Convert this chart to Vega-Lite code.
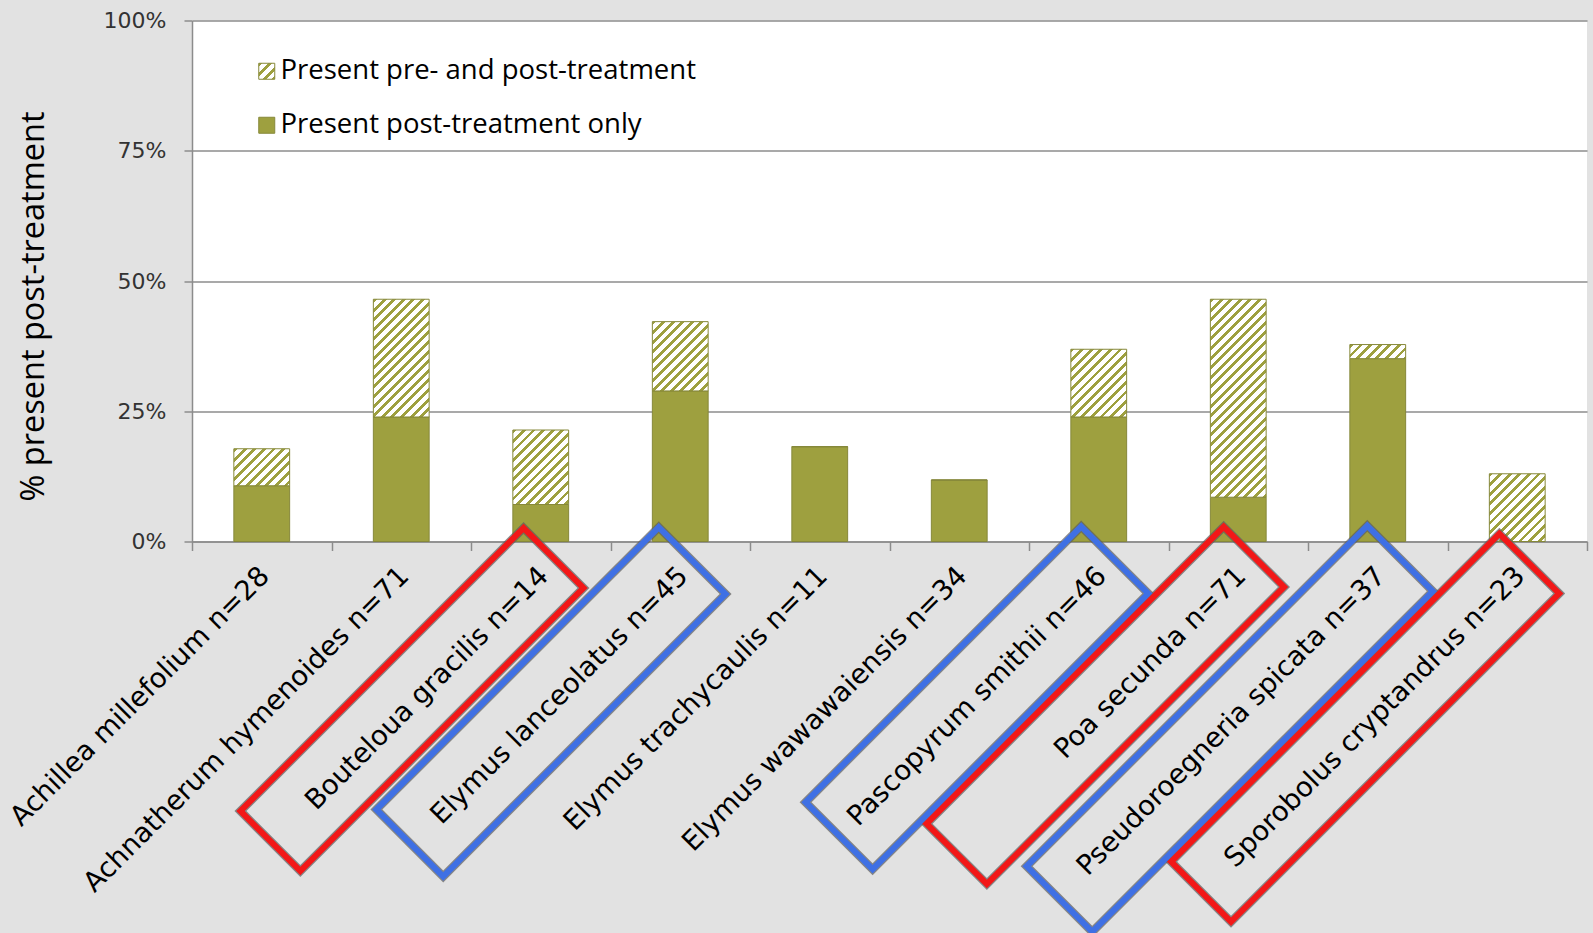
{
  "$schema": "https://vega.github.io/schema/vega-lite/v6.json",
  "width": 1395,
  "height": 521,
  "autosize": {"type": "none"},
  "padding": {"left": 192, "top": 20.5, "right": 6, "bottom": 391.5},
  "background": "#e2e2e2",
  "config": {"view": {"fill": "#ffffff", "stroke": null}},
  "resolve": {"scale": {"stroke": "independent"}, "legend": {"stroke": "independent"}},
  "params": [
    {"name": "stripes", "value": [
      {"offset": 0, "color": "#9ea03f"}, {"offset": 0.014286, "color": "#9ea03f"}, {"offset": 0.014286, "color": "#ffffff"}, {"offset": 0.035714, "color": "#ffffff"},
      {"offset": 0.035714, "color": "#9ea03f"}, {"offset": 0.05, "color": "#9ea03f"}, {"offset": 0.05, "color": "#ffffff"}, {"offset": 0.071429, "color": "#ffffff"},
      {"offset": 0.071429, "color": "#9ea03f"}, {"offset": 0.085714, "color": "#9ea03f"}, {"offset": 0.085714, "color": "#ffffff"}, {"offset": 0.107143, "color": "#ffffff"},
      {"offset": 0.107143, "color": "#9ea03f"}, {"offset": 0.121429, "color": "#9ea03f"}, {"offset": 0.121429, "color": "#ffffff"}, {"offset": 0.142857, "color": "#ffffff"},
      {"offset": 0.142857, "color": "#9ea03f"}, {"offset": 0.157143, "color": "#9ea03f"}, {"offset": 0.157143, "color": "#ffffff"}, {"offset": 0.178571, "color": "#ffffff"},
      {"offset": 0.178571, "color": "#9ea03f"}, {"offset": 0.192857, "color": "#9ea03f"}, {"offset": 0.192857, "color": "#ffffff"}, {"offset": 0.214286, "color": "#ffffff"},
      {"offset": 0.214286, "color": "#9ea03f"}, {"offset": 0.228571, "color": "#9ea03f"}, {"offset": 0.228571, "color": "#ffffff"}, {"offset": 0.25, "color": "#ffffff"},
      {"offset": 0.25, "color": "#9ea03f"}, {"offset": 0.264286, "color": "#9ea03f"}, {"offset": 0.264286, "color": "#ffffff"}, {"offset": 0.285714, "color": "#ffffff"},
      {"offset": 0.285714, "color": "#9ea03f"}, {"offset": 0.3, "color": "#9ea03f"}, {"offset": 0.3, "color": "#ffffff"}, {"offset": 0.321429, "color": "#ffffff"},
      {"offset": 0.321429, "color": "#9ea03f"}, {"offset": 0.335714, "color": "#9ea03f"}, {"offset": 0.335714, "color": "#ffffff"}, {"offset": 0.357143, "color": "#ffffff"},
      {"offset": 0.357143, "color": "#9ea03f"}, {"offset": 0.371429, "color": "#9ea03f"}, {"offset": 0.371429, "color": "#ffffff"}, {"offset": 0.392857, "color": "#ffffff"},
      {"offset": 0.392857, "color": "#9ea03f"}, {"offset": 0.407143, "color": "#9ea03f"}, {"offset": 0.407143, "color": "#ffffff"}, {"offset": 0.428571, "color": "#ffffff"},
      {"offset": 0.428571, "color": "#9ea03f"}, {"offset": 0.442857, "color": "#9ea03f"}, {"offset": 0.442857, "color": "#ffffff"}, {"offset": 0.464286, "color": "#ffffff"},
      {"offset": 0.464286, "color": "#9ea03f"}, {"offset": 0.478571, "color": "#9ea03f"}, {"offset": 0.478571, "color": "#ffffff"}, {"offset": 0.5, "color": "#ffffff"},
      {"offset": 0.5, "color": "#9ea03f"}, {"offset": 0.514286, "color": "#9ea03f"}, {"offset": 0.514286, "color": "#ffffff"}, {"offset": 0.535714, "color": "#ffffff"},
      {"offset": 0.535714, "color": "#9ea03f"}, {"offset": 0.55, "color": "#9ea03f"}, {"offset": 0.55, "color": "#ffffff"}, {"offset": 0.571429, "color": "#ffffff"},
      {"offset": 0.571429, "color": "#9ea03f"}, {"offset": 0.585714, "color": "#9ea03f"}, {"offset": 0.585714, "color": "#ffffff"}, {"offset": 0.607143, "color": "#ffffff"},
      {"offset": 0.607143, "color": "#9ea03f"}, {"offset": 0.621429, "color": "#9ea03f"}, {"offset": 0.621429, "color": "#ffffff"}, {"offset": 0.642857, "color": "#ffffff"},
      {"offset": 0.642857, "color": "#9ea03f"}, {"offset": 0.657143, "color": "#9ea03f"}, {"offset": 0.657143, "color": "#ffffff"}, {"offset": 0.678571, "color": "#ffffff"},
      {"offset": 0.678571, "color": "#9ea03f"}, {"offset": 0.692857, "color": "#9ea03f"}, {"offset": 0.692857, "color": "#ffffff"}, {"offset": 0.714286, "color": "#ffffff"},
      {"offset": 0.714286, "color": "#9ea03f"}, {"offset": 0.728571, "color": "#9ea03f"}, {"offset": 0.728571, "color": "#ffffff"}, {"offset": 0.75, "color": "#ffffff"},
      {"offset": 0.75, "color": "#9ea03f"}, {"offset": 0.764286, "color": "#9ea03f"}, {"offset": 0.764286, "color": "#ffffff"}, {"offset": 0.785714, "color": "#ffffff"},
      {"offset": 0.785714, "color": "#9ea03f"}, {"offset": 0.8, "color": "#9ea03f"}, {"offset": 0.8, "color": "#ffffff"}, {"offset": 0.821429, "color": "#ffffff"},
      {"offset": 0.821429, "color": "#9ea03f"}, {"offset": 0.835714, "color": "#9ea03f"}, {"offset": 0.835714, "color": "#ffffff"}, {"offset": 0.857143, "color": "#ffffff"},
      {"offset": 0.857143, "color": "#9ea03f"}, {"offset": 0.871429, "color": "#9ea03f"}, {"offset": 0.871429, "color": "#ffffff"}, {"offset": 0.892857, "color": "#ffffff"},
      {"offset": 0.892857, "color": "#9ea03f"}, {"offset": 0.907143, "color": "#9ea03f"}, {"offset": 0.907143, "color": "#ffffff"}, {"offset": 0.928571, "color": "#ffffff"},
      {"offset": 0.928571, "color": "#9ea03f"}, {"offset": 0.942857, "color": "#9ea03f"}, {"offset": 0.942857, "color": "#ffffff"}, {"offset": 0.964286, "color": "#ffffff"},
      {"offset": 0.964286, "color": "#9ea03f"}, {"offset": 0.978571, "color": "#9ea03f"}, {"offset": 0.978571, "color": "#ffffff"}, {"offset": 1, "color": "#ffffff"}
    ]}
  ],
  "datasets": {
    "bars": [
      {"species": "Achillea millefolium n=28", "status": "Present post-treatment only", "value": 0.107},
      {"species": "Achillea millefolium n=28", "status": "Present pre- and post-treatment", "value": 0.071},
      {"species": "Achnatherum hymenoides n=71", "status": "Present post-treatment only", "value": 0.239},
      {"species": "Achnatherum hymenoides n=71", "status": "Present pre- and post-treatment", "value": 0.226},
      {"species": "Bouteloua gracilis n=14", "status": "Present post-treatment only", "value": 0.071},
      {"species": "Bouteloua gracilis n=14", "status": "Present pre- and post-treatment", "value": 0.143},
      {"species": "Elymus lanceolatus n=45", "status": "Present post-treatment only", "value": 0.289},
      {"species": "Elymus lanceolatus n=45", "status": "Present pre- and post-treatment", "value": 0.133},
      {"species": "Elymus trachycaulis n=11", "status": "Present post-treatment only", "value": 0.182},
      {"species": "Elymus trachycaulis n=11", "status": "Present pre- and post-treatment", "value": 0},
      {"species": "Elymus wawawaiensis n=34", "status": "Present post-treatment only", "value": 0.118},
      {"species": "Elymus wawawaiensis n=34", "status": "Present pre- and post-treatment", "value": 0},
      {"species": "Pascopyrum smithii n=46", "status": "Present post-treatment only", "value": 0.239},
      {"species": "Pascopyrum smithii n=46", "status": "Present pre- and post-treatment", "value": 0.130},
      {"species": "Poa secunda n=71", "status": "Present post-treatment only", "value": 0.085},
      {"species": "Poa secunda n=71", "status": "Present pre- and post-treatment", "value": 0.380},
      {"species": "Pseudoroegneria spicata n=37", "status": "Present post-treatment only", "value": 0.351},
      {"species": "Pseudoroegneria spicata n=37", "status": "Present pre- and post-treatment", "value": 0.027},
      {"species": "Sporobolus cryptandrus n=23", "status": "Present post-treatment only", "value": 0},
      {"species": "Sporobolus cryptandrus n=23", "status": "Present pre- and post-treatment", "value": 0.130}
    ],
    "boxes": [
      {"species": "Bouteloua gracilis n=14", "outline": "red"},
      {"species": "Elymus lanceolatus n=45", "outline": "blue"},
      {"species": "Pascopyrum smithii n=46", "outline": "blue"},
      {"species": "Poa secunda n=71", "outline": "red"},
      {"species": "Pseudoroegneria spicata n=37", "outline": "blue"},
      {"species": "Sporobolus cryptandrus n=23", "outline": "red"}
    ]
  },
  "encoding": {
    "x": {
      "field": "species",
      "type": "nominal",
      "sort": null,
      "scale": {
        "domain": ["Achillea millefolium n=28", "Achnatherum hymenoides n=71", "Bouteloua gracilis n=14", "Elymus lanceolatus n=45", "Elymus trachycaulis n=11", "Elymus wawawaiensis n=34", "Pascopyrum smithii n=46", "Poa secunda n=71", "Pseudoroegneria spicata n=37", "Sporobolus cryptandrus n=23"],
        "paddingInner": 0,
        "paddingOuter": 0
      },
      "axis": {
        "title": null,
        "labelAngle": -45,
        "labelAlign": "right",
        "labelBaseline": "middle",
        "labelFont": "DejaVu Sans",
        "labelFontSize": 27.5,
        "labelColor": "#000000",
        "labelPadding": 21,
        "labelOffset": 3,
        "labelLimit": 1000,
        "labelOverlap": false,
        "labelBound": false,
        "tickBand": "extent",
        "tickSize": 9,
        "tickWidth": 1.5,
        "tickColor": "#8c8c8c",
        "domainColor": "#8c8c8c",
        "domainWidth": 1.5,
        "grid": false
      }
    }
  },
  "layer": [
    {
      "data": {"name": "bars"},
      "mark": {"type": "bar", "width": {"band": 0.4}, "strokeWidth": 1},
      "encoding": {
        "y": {
          "field": "value",
          "type": "quantitative",
          "stack": "zero",
          "scale": {"domain": [0, 1]},
          "axis": {
            "values": [0, 0.25, 0.5, 0.75, 1],
            "format": ".0%",
            "title": "% present post-treatment",
            "titleFont": "Open Sans",
            "titleFontSize": 32.5,
            "titleFontWeight": "normal",
            "titleColor": "#000000",
            "titleAngle": 270,
            "titleX": -159,
            "titleY": 285.5,
            "titleAlign": "center",
            "titleBaseline": "middle",
            "labelFont": "DejaVu Sans",
            "labelFontSize": 22,
            "labelColor": "#333333",
            "labelPadding": 18,
            "tickSize": 8,
            "tickWidth": 1.5,
            "tickColor": "#8c8c8c",
            "domainColor": "#8c8c8c",
            "domainWidth": 1.5,
            "gridColor": "#8c8c8c",
            "gridWidth": 1.5
          }
        },
        "order": {"field": "status", "sort": "ascending"},
        "fill": {
          "condition": {
            "test": "datum.status === 'Present pre- and post-treatment' || datum.value === 'Present pre- and post-treatment'",
            "value": {"expr": "isString(datum.value) ? (datum.value === 'Present pre- and post-treatment' ? {gradient: 'linear', x1: 0, y1: 0, x2: 8.4, y2: 8.4, stops: stripes} : '#9ea03f') : {gradient: 'linear', x1: 0, y1: 0, x2: 268.8 * 55.8 / (3113.64 + pow(datum.value * 521, 2)), y2: 268.8 * datum.value * 521 / (3113.64 + pow(datum.value * 521, 2)), stops: stripes}"}
          },
          "field": "status",
          "type": "nominal",
          "scale": {"domain": ["Present pre- and post-treatment", "Present post-treatment only"], "range": ["#ffffff", "#9ea03f"]},
          "legend": null
        },
        "stroke": {
          "field": "status",
          "type": "nominal",
          "scale": {"domain": ["Present pre- and post-treatment", "Present post-treatment only"], "range": ["#86883a", "#86883a"]},
          "legend": {
            "title": null,
            "orient": "none",
            "legendX": 61,
            "legendY": 37,
            "direction": "vertical",
            "symbolType": "square",
            "symbolSize": 256,
            "symbolStrokeWidth": 1,
            "symbolOpacity": 1,
            "labelFont": "Open Sans",
            "labelFontSize": 27.5,
            "labelColor": "#000000",
            "labelOffset": 0,
            "labelLimit": 1000,
            "rowPadding": 25,
            "padding": 0
          }
        }
      }
    },
    {
      "data": {"name": "boxes"},
      "mark": {"type": "point", "filled": false, "opacity": 1, "strokeWidth": 8.5, "stroke": "#5e5e5e", "strokeOpacity": 0.7, "strokeJoin": "miter"},
      "encoding": {
        "y": {"datum": 0, "type": "quantitative"},
        "shape": {
          "field": "species",
          "type": "nominal",
          "scale": {
            "domain": ["Bouteloua gracilis n=14", "Elymus lanceolatus n=45", "Pascopyrum smithii n=46", "Poa secunda n=71", "Pseudoroegneria spicata n=37", "Sporobolus cryptandrus n=23"],
            "range": ["M-403,-21.7H-2.6V63H-403Z", "M-404.4,-25.3H-5.1V69.2H-404.4Z", "M-391.6,-23H-1.8V71.8H-391.6Z", "M-420,-20.8H0.2V64.5H-420Z", "M-477.9,-18.6H3.8V74.1H-477.9Z", "M-471.2,-18.2H-7.1V66.4H-471.2Z"]
          },
          "legend": null
        },
        "size": {"value": 4},
        "angle": {"value": -45}
      }
    },
    {
      "data": {"name": "boxes"},
      "mark": {"type": "point", "filled": false, "opacity": 1, "strokeWidth": 6, "strokeJoin": "miter"},
      "encoding": {
        "y": {"datum": 0, "type": "quantitative"},
        "shape": {"field": "species", "type": "nominal", "legend": null},
        "stroke": {"field": "outline", "type": "nominal", "scale": {"domain": ["red", "blue"], "range": ["#f21818", "#3f70e4"]}, "legend": null},
        "size": {"value": 4},
        "angle": {"value": -45}
      }
    }
  ]
}
